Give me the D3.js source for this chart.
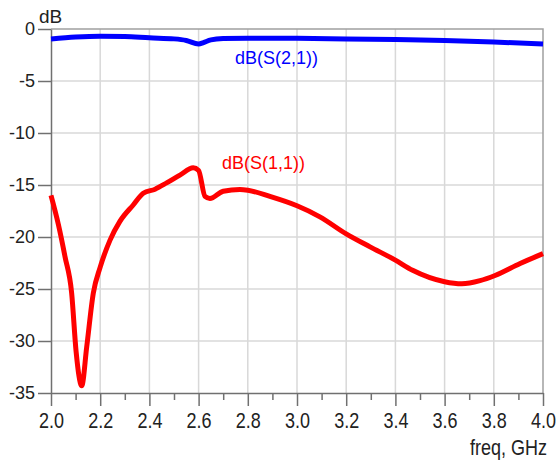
<!DOCTYPE html>
<html>
<head>
<meta charset="utf-8">
<script src="https://cdn.jsdelivr.net/npm/d3@7"></script>
<style>
	body { margin: 0; background: #fff; }
	text { font-family: "Liberation Sans", Arial, sans-serif; }
</style>
</head>
<body>
<div id="chart"></div>
<script>
// S21 trace
var freqS21 = [2.00, 2.10, 2.20, 2.30, 2.40, 2.50, 2.55, 2.60, 2.62, 2.65, 2.70, 2.80, 3.00, 3.20, 3.40, 3.60, 3.80, 4.00];
var dbS21 = [-0.96, -0.78, -0.70, -0.72, -0.85, -0.95, -1.10, -1.45, -1.30, -1.05, -0.92, -0.88, -0.90, -0.95, -1.02, -1.10, -1.25, -1.45];

// S11 trace
var freqS11 = [2.000, 2.030, 2.057, 2.084, 2.102, 2.125, 2.145, 2.172, 2.200, 2.240, 2.280, 2.335, 2.375, 2.423,
	2.470, 2.524, 2.578, 2.600, 2.626, 2.646, 2.700, 2.768, 2.800, 2.890, 3.000, 3.093, 3.200, 3.297, 3.398,
	3.470, 3.600, 3.670, 3.744, 3.805, 3.907, 4.000];
var dbS11 = [-16.0, -18.8, -21.9, -25.4, -31.0, -34.3, -30.6, -25.4, -22.9, -20.3, -18.5, -16.9, -15.8, -15.4,
	-14.8, -14.05, -13.35, -13.6, -16.1, -16.3, -15.6, -15.43, -15.5, -16.1, -17.0, -18.06, -19.7, -20.95, -22.2,
	-23.2, -24.3, -24.5, -24.2, -23.7, -22.55, -21.6];

var xTicks = [2.0, 2.2, 2.4, 2.6, 2.8, 3.0, 3.2, 3.4, 3.6, 3.8, 4.0];
var xMinor = [2.1, 2.3, 2.5, 2.7, 2.9, 3.1, 3.3, 3.5, 3.7, 3.9];
var yTicks = [0, -5, -10, -15, -20, -25, -30, -35];

function chart() {
	var pl = 51, pr = 543, pt = 29, pb = 393;

	var svg = d3.select("#chart")
		.append("svg")
		.attr("width", 556)
		.attr("height", 461);

	var x = d3.scaleLinear().domain([2, 4]).range([pl, pr]);
	var y = d3.scaleLinear().domain([0, -35]).range([pt, pb]);

	// grid
	svg.append("g")
		.selectAll("line")
		.data(xTicks.slice(1, -1))
		.enter()
		.append("line")
		.attr("x1", function (d) { return x(d); })
		.attr("x2", function (d) { return x(d); })
		.attr("y1", pt)
		.attr("y2", pb)
		.style("stroke", "#d8d8d8")
		.style("stroke-width", 1.5);

	svg.append("g")
		.selectAll("line")
		.data(yTicks.slice(1, -1))
		.enter()
		.append("line")
		.attr("x1", pl)
		.attr("x2", pr)
		.attr("y1", function (d) { return y(d); })
		.attr("y2", function (d) { return y(d); })
		.style("stroke", "#d8d8d8")
		.style("stroke-width", 1.5);

	// frame top/right
	svg.append("path")
		.attr("d", "M" + pl + "," + pt + "H" + pr + "V" + pb)
		.style("fill", "none")
		.style("stroke", "#a0a0a0")
		.style("stroke-width", 1.5);

	// axes
	var xAxis = svg.append("g")
		.attr("transform", "translate(0," + pb + ")")
		.call(d3.axisBottom(x).tickValues(xTicks).tickSize(13).tickSizeOuter(0)
			.tickFormat(d3.format(".1f")));

	svg.append("g")
		.attr("transform", "translate(0," + pb + ")")
		.call(d3.axisBottom(x).tickValues(xMinor).tickSize(7).tickFormat(""))
		.select(".domain").remove();

	var yAxis = svg.append("g")
		.attr("transform", "translate(" + pl + ",0)")
		.call(d3.axisLeft(y).tickValues(yTicks).tickSize(13).tickSizeOuter(0).tickPadding(3)
			.tickFormat(d3.format("d")));

	svg.selectAll(".domain, .tick line")
		.style("stroke", "#707070")
		.style("stroke-width", 1.5);

	svg.selectAll(".tick text")
		.style("font-size", "18px")
		.style("fill", "#222");

	// x labels in the reference are a bit taller than wide
	xAxis.selectAll(".tick text")
		.attr("y", 0)
		.attr("dy", 0)
		.attr("transform", "translate(0,35) scale(1,1.2)");

	yAxis.selectAll(".tick text").text(function (d) { return d < 0 ? "-" + (-d) : d; });

	// traces
	var line = d3.line()
		.x(function (d) { return x(d[0]); })
		.y(function (d) { return y(d[1]); })
		.curve(d3.curveMonotoneX);

	svg.append("path")
		.datum(d3.zip(freqS21, dbS21))
		.attr("d", line)
		.style("fill", "none")
		.style("stroke", "#0000ff")
		.style("stroke-width", 5);

	svg.append("path")
		.datum(d3.zip(freqS11, dbS11))
		.attr("d", line)
		.style("fill", "none")
		.style("stroke", "#ff0000")
		.style("stroke-width", 5)
		.style("stroke-linejoin", "round");

	// labels
	svg.append("text")
		.attr("x", 39)
		.attr("y", 23)
		.style("font-size", "19px")
		.style("fill", "#222")
		.text("dB");

	svg.append("text")
		.attr("text-anchor", "end")
		.attr("transform", "translate(547,455) scale(1,1.2)")
		.style("font-size", "18px")
		.style("fill", "#222")
		.text("freq, GHz");

	svg.append("text")
		.attr("x", 235)
		.attr("y", 64)
		.style("font-size", "18px")
		.style("fill", "#0000ff")
		.text("dB(S(2,1))");

	svg.append("text")
		.attr("x", 222)
		.attr("y", 169)
		.style("font-size", "18px")
		.style("fill", "#ff0000")
		.text("dB(S(1,1))");
}

chart();
</script>
</body>
</html>
